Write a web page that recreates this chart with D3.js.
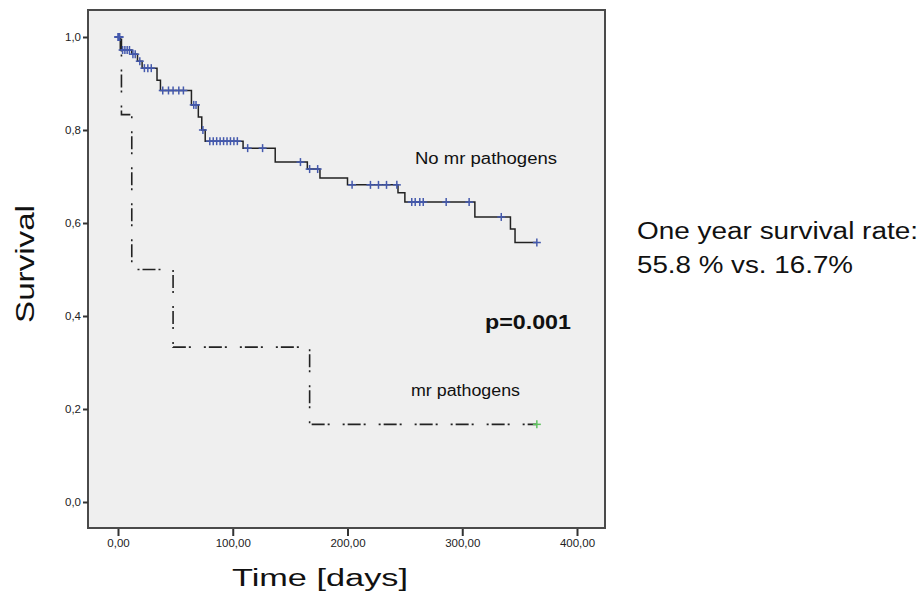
<!DOCTYPE html>
<html>
<head>
<meta charset="utf-8">
<script src="https://cdn.jsdelivr.net/npm/d3@7"></script>
<style>
  body { margin: 0; background: #fff; }
  svg { font-family: "Liberation Sans", Arial, sans-serif; }
</style>
</head>
<body>
<div id="chart"></div>
<script>
// Kaplan-Meier steps: [time, survival after the drop]
const noMrSteps = [[0, 1.0], [2, 0.972], [12, 0.963], [17, 0.948], [21, 0.933], [34, 0.907], [37, 0.885],
  [64, 0.854], [70, 0.828], [73, 0.80], [76, 0.776], [109, 0.761], [137, 0.731], [165, 0.716],
  [176, 0.697], [200, 0.682], [244, 0.665], [250, 0.645], [311, 0.613], [342, 0.587], [346, 0.558]];
const noMrCensored = [0, 0.5, 1, 1.5, 4, 6, 8, 10, 13, 15, 19, 23, 26, 29, 39, 44, 48, 53, 57, 66, 68, 74,
  80, 83, 86, 89, 92, 95, 98, 101, 104, 113, 126, 159, 167, 174, 204, 220, 227, 234, 243,
  256, 259, 263, 266, 286, 306, 334, 365];
const mrSteps = [[0, 1.0], [3, 0.833], [12, 0.5], [48, 0.333], [167, 0.167]];
const mrCensored = [365];
const endTime = 365;

const xTicks = [0, 100, 200, 300, 400];
const yTicks = [0, 0.2, 0.4, 0.6, 0.8, 1.0];

const svg = d3.select("#chart").append("svg")
  .attr("width", 922)
  .attr("height", 596);

const x = d3.scaleLinear().domain([0, 400]).range([118, 577]);
const y = d3.scaleLinear().domain([0, 1]).range([502, 37]);

// plot frame
const frame = { left: 88, right: 605, top: 10, bottom: 528 };
svg.append("rect")
  .attr("x", frame.left).attr("y", frame.top)
  .attr("width", frame.right - frame.left).attr("height", frame.bottom - frame.top)
  .attr("fill", "#efefef")
  .attr("stroke", "#4a4a4a")
  .attr("stroke-width", 2);

const fmtX = d => d3.format(".2f")(d).replace(".", ",");
const fmtY = d => d3.format(".1f")(d).replace(".", ",");

const xAxis = svg.append("g").attr("transform", `translate(0,${frame.bottom})`)
  .call(d3.axisBottom(x).tickValues(xTicks).tickFormat(fmtX).tickSize(7).tickPadding(4));
const yAxis = svg.append("g").attr("transform", `translate(${frame.left},0)`)
  .call(d3.axisLeft(y).tickValues(yTicks).tickFormat(fmtY).tickSize(5).tickPadding(2));
[xAxis, yAxis].forEach(a => {
  a.select(".domain").remove();
  a.selectAll("line").attr("stroke", "#333").attr("stroke-width", 2);
  a.selectAll("text").attr("fill", "#222").style("font-size", "11.5px");
});
xAxis.selectAll(".tick line").attr("transform", "translate(0,1)");

const stepLine = d3.line().x(d => x(d[0])).y(d => y(d[1])).curve(d3.curveStepAfter);
const withEnd = steps => steps.concat([[endTime, steps[steps.length - 1][1]]]);
const survAt = (steps, t) => {
  let s = steps[0][1];
  steps.forEach(d => { if (d[0] <= t) s = d[1]; });
  return s;
};

svg.append("path")
  .datum(withEnd(mrSteps))
  .attr("fill", "none")
  .attr("stroke", "#222")
  .attr("stroke-width", 1.6)
  .attr("stroke-dasharray", "2,3,13,3,2,13")
  .attr("d", stepLine);

svg.append("path")
  .datum(withEnd(noMrSteps))
  .attr("fill", "none")
  .attr("stroke", "#222")
  .attr("stroke-width", 1.5)
  .attr("d", stepLine);

function crosses(times, steps, color) {
  const g = svg.append("g").attr("stroke", color).attr("stroke-width", 1.5);
  times.forEach(t => {
    const cx = x(t), cy = y(survAt(steps, t));
    g.append("line").attr("x1", cx - 4).attr("x2", cx + 4).attr("y1", cy).attr("y2", cy);
    g.append("line").attr("x1", cx).attr("x2", cx).attr("y1", cy - 4).attr("y2", cy + 4);
  });
}
crosses(noMrCensored, noMrSteps, "#4459ad");
crosses(mrCensored, mrSteps, "#5fc25f");

// labels (text is a little wider than Liberation Sans, so stretch to the measured widths)
function label(txt, px, py, size, width, bold) {
  return svg.append("text").attr("x", px).attr("y", py)
    .attr("font-size", size).attr("font-weight", bold ? "bold" : "normal")
    .attr("fill", "#111")
    .attr("textLength", width).attr("lengthAdjust", "spacingAndGlyphs")
    .text(txt);
}
label("No mr pathogens", 415, 164, 16, 142);
label("mr pathogens", 411, 396, 16, 109);
label("p=0.001", 485, 329, 19.5, 86, true);

label("Time [days]", 232, 586, 23, 176);
svg.append("text").attr("transform", "translate(34,323) rotate(-90)")
  .attr("font-size", 25).attr("fill", "#111")
  .attr("textLength", 118).attr("lengthAdjust", "spacingAndGlyphs")
  .text("Survival");

label("One year survival rate:", 637, 239, 23.5, 281);
label("55.8 % vs. 16.7%", 637, 273, 23.5, 216);
</script>
</body>
</html>
